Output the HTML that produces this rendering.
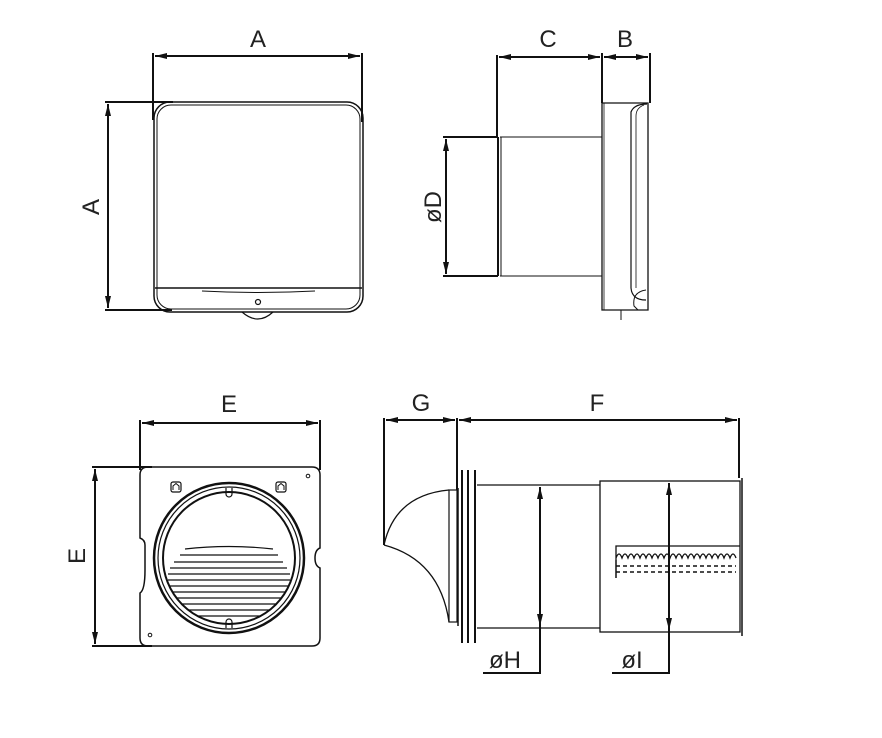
<!DOCTYPE html>
<html><head><style>body{margin:0;background:#fff}svg{display:block}text{font-family:"Liberation Sans",sans-serif;font-size:24px;fill:#222}</style></head>
<body>
<svg width="882" height="738" viewBox="0 0 882 738" xmlns="http://www.w3.org/2000/svg">
<defs>
<marker id="ar" viewBox="0 0 12 6" refX="12" refY="3" markerWidth="12" markerHeight="6" orient="auto-start-reverse" markerUnits="userSpaceOnUse"><path d="M0,0L12,3L0,6z" fill="#111"/></marker>
</defs>
<g stroke="#111" fill="none">
<!-- top-left view -->
<g stroke-width="2">
<line x1="153" y1="53" x2="153" y2="120"/><line x1="362" y1="53" x2="362" y2="122"/>
<line x1="155" y1="56" x2="360" y2="56" marker-start="url(#ar)" marker-end="url(#ar)"/>
<line x1="105" y1="102" x2="173" y2="102"/><line x1="105" y1="310" x2="172" y2="310"/>
<line x1="108" y1="104" x2="108" y2="308" marker-start="url(#ar)" marker-end="url(#ar)"/>
</g>
<rect x="154" y="102" width="209" height="210" rx="16" stroke-width="1.5"/>
<rect x="157" y="105" width="203" height="204" rx="14" stroke-width="1"/>
<line x1="155" y1="288" x2="362" y2="288" stroke-width="1.5"/>
<path d="M202,291 Q258,294 315,291" stroke-width="1"/>
<circle cx="258" cy="302" r="2.5" stroke-width="1.2"/>
<path d="M242,312 Q258,326 273,312" stroke-width="1.2"/>
<!-- side view -->
<g stroke-width="2">
<line x1="497" y1="55" x2="497" y2="138"/><line x1="602" y1="53" x2="602" y2="103"/><line x1="650" y1="53" x2="650" y2="103"/>
<line x1="499" y1="57" x2="600" y2="57" marker-start="url(#ar)" marker-end="url(#ar)"/>
<line x1="604" y1="57" x2="648" y2="57" marker-start="url(#ar)" marker-end="url(#ar)"/>
<line x1="443" y1="137" x2="498" y2="137"/><line x1="443" y1="276" x2="498" y2="276"/>
<line x1="446" y1="139" x2="446" y2="274" marker-start="url(#ar)" marker-end="url(#ar)"/>
<line x1="498" y1="137" x2="498" y2="276"/>
</g>
<line x1="500" y1="137" x2="602" y2="137" stroke-width="1"/><line x1="500" y1="276" x2="602" y2="276" stroke-width="1"/>
<line x1="501" y1="137" x2="501" y2="276" stroke-width="1"/>
<path d="M602,103 H648 V310 H602 Z" stroke-width="1.3"/>
<line x1="604" y1="103" x2="604" y2="310" stroke-width="0.8"/>
<path d="M647,104 Q634,104 631,112 V288 Q632,300 646,300" stroke-width="1.2"/>
<path d="M644,105 Q636,108 636,116 V288" stroke-width="0.8"/>
<path d="M646,290 Q632,292 634,306 L638,310" stroke-width="1"/>
<line x1="621" y1="310" x2="621" y2="320" stroke-width="1"/>
<!-- bottom-left view -->
<g stroke-width="2">
<line x1="140" y1="420" x2="140" y2="470"/><line x1="320" y1="420" x2="320" y2="470"/>
<line x1="142" y1="423" x2="318" y2="423" marker-start="url(#ar)" marker-end="url(#ar)"/>
<line x1="92" y1="467" x2="152" y2="467"/><line x1="92" y1="646" x2="152" y2="646"/>
<line x1="95" y1="469" x2="95" y2="644" marker-start="url(#ar)" marker-end="url(#ar)"/>
</g>
<path d="M148,467 H312 Q320,467 320,475 V548 Q315,550 315,558 Q315,566 320,568 V638 Q320,646 312,646 H148 Q140,646 140,638 V593 Q145,590 145,570 V545 Q145,540 140,538 V475 Q140,467 148,467 Z" stroke-width="1.5"/>
<circle cx="308" cy="476" r="1.8" stroke-width="1"/><circle cx="150" cy="635" r="1.8" stroke-width="1"/>
<rect x="171" y="482" width="10" height="10" rx="2" stroke-width="1.2"/><rect x="276" y="482" width="10" height="10" rx="2" stroke-width="1.2"/>
<path d="M173,490 V486 L176,483.5 L179,486 V490" stroke-width="1"/><path d="M278,490 V486 L281,483.5 L284,486 V490" stroke-width="1"/>
<circle cx="229" cy="558" r="75" stroke-width="2.5"/>
<circle cx="229" cy="558" r="71" stroke-width="1.2"/>
<circle cx="229" cy="558" r="66" stroke-width="2"/>
<path d="M226,488 V494 A3,3 0 0 0 232,494 V488" stroke-width="1.2"/><path d="M226,628 V622 A3,3 0 0 1 232,622 V628" stroke-width="1.2"/>
<path d="M185,549 Q229,544 273,549 M180,555 H278 M174,562 H283 M170,568 H287 M168,574 H290 M168,580 H290 M170,586 H288 M172,592 H286 M176,598 H282 M181,604 H277 M188,610 H270 M197,616 H261" stroke-width="1.2"/>
<!-- bottom-right view -->
<g stroke-width="2">
<line x1="384" y1="418" x2="384" y2="545"/><line x1="457" y1="418" x2="457" y2="490"/><line x1="739" y1="418" x2="739" y2="478"/>
<line x1="386" y1="420" x2="455" y2="420" marker-start="url(#ar)" marker-end="url(#ar)"/>
<line x1="459" y1="420" x2="737" y2="420" marker-start="url(#ar)" marker-end="url(#ar)"/>
<line x1="540" y1="487" x2="540" y2="626" marker-start="url(#ar)" marker-end="url(#ar)"/>
<polyline points="540,626 540,673 483,673"/>
<line x1="669" y1="483" x2="669" y2="630" marker-start="url(#ar)" marker-end="url(#ar)"/>
<polyline points="669,630 669,673 612,673"/>
</g>
<path d="M384,545 Q395,495 449,490" stroke-width="1.3"/>
<path d="M384,545 Q440,560 449,622" stroke-width="1.3"/>
<rect x="449" y="490" width="8" height="132" stroke-width="1.2"/>
<line x1="458" y1="488" x2="458" y2="626" stroke-width="1.5"/>
<g stroke-width="2"><line x1="462" y1="470" x2="462" y2="643"/><line x1="468" y1="470" x2="468" y2="643"/><line x1="475" y1="470" x2="475" y2="643"/></g>
<path d="M477,485 H600 M477,628 H600" stroke-width="1.2"/>
<rect x="600" y="481" width="140" height="151" stroke-width="1.3"/>
<line x1="742" y1="478" x2="742" y2="636" stroke-width="1.5"/>
<path d="M616,560 V546 H740 M616,558 q3,-8 6,0 q3,-8 6,0 q3,-8 6,0 q3,-8 6,0 q3,-8 6,0 q3,-8 6,0 q3,-8 6,0 q3,-8 6,0 q3,-8 6,0 q3,-8 6,0 q3,-8 6,0 q3,-8 6,0 q3,-8 6,0 q3,-8 6,0 q3,-8 6,0 q3,-8 6,0 q3,-8 6,0 q3,-8 6,0 q3,-8 6,0 q3,-8 6,0" stroke-width="1.3"/>
<path d="M616,566 H736 M616,572 H736" stroke-width="1.6" stroke-dasharray="4,3"/>
<line x1="616" y1="560" x2="616" y2="578" stroke-width="1.5"/>
</g>
<text x="258" y="47" text-anchor="middle">A</text>
<text transform="translate(99,207) rotate(-90)" text-anchor="middle">A</text>
<text x="548" y="47" text-anchor="middle">C</text>
<text x="625" y="47" text-anchor="middle">B</text>
<text transform="translate(441,207) rotate(-90)" text-anchor="middle">øD</text>
<text x="229" y="412" text-anchor="middle">E</text>
<text transform="translate(85,556) rotate(-90)" text-anchor="middle">E</text>
<text x="421" y="411" text-anchor="middle">G</text>
<text x="597" y="411" text-anchor="middle">F</text>
<text x="505" y="668" text-anchor="middle">øH</text>
<text x="632" y="668" text-anchor="middle">øI</text>
</svg>
</body></html>
